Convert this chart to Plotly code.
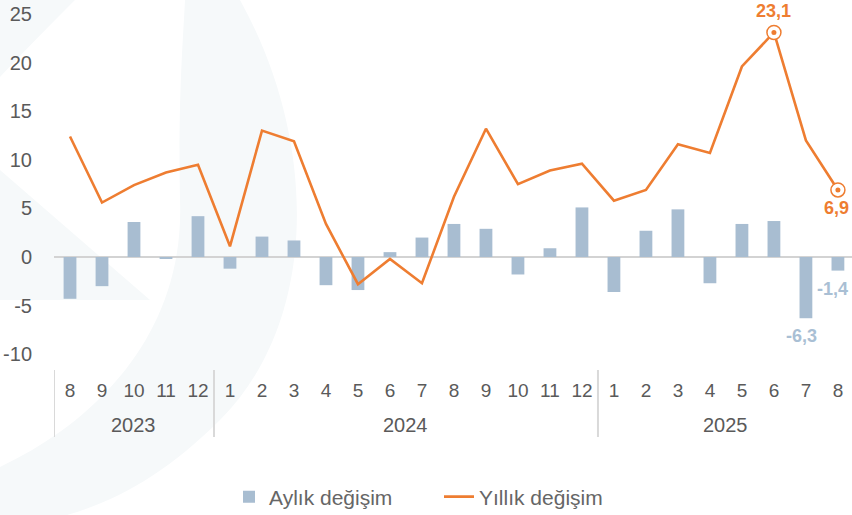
import plotly.graph_objects as go

years = ["2023"] * 5 + ["2024"] * 12 + ["2025"] * 8
months = ["8", "9", "10", "11", "12",
          "1", "2", "3", "4", "5", "6", "7", "8", "9", "10", "11", "12",
          "1", "2", "3", "4", "5", "6", "7", "8"]
monthly = [-4.3, -3.0, 3.6, -0.2, 4.2,
           -1.2, 2.1, 1.7, -2.9, -3.4, 0.5, 2.0, 3.4, 2.9, -1.8, 0.9, 5.1,
           -3.6, 2.7, 4.9, -2.7, 3.4, 3.7, -6.3, -1.4]
yearly = [12.4, 5.6, 7.4, 8.7, 9.5,
          1.1, 13.0, 11.9, 3.4, -2.8, -0.2, -2.7, 6.2, 13.2, 7.5, 8.9, 9.6,
          5.8, 6.9, 11.6, 10.7, 19.6, 23.1, 12.0, 6.9]
yticks = [-10, -5, 0, 5, 10, 15, 20, 25]

BAR = "#A8BDD1"
ORANGE = "#EE7D31"
TXT = "#5a5a5a"
FONT = "Liberation Sans"

periods = [f"{y}-{m}" for y, m in zip(years, months)]
peak = max(range(len(yearly)), key=lambda i: yearly[i])
last = len(yearly) - 1
hl = [peak, last]

fig = go.Figure()
fig.add_trace(go.Bar(x=periods, y=monthly, name="Aylık değişim", marker_color=BAR,
                     marker_line_width=0))
fig.add_trace(go.Scatter(x=periods, y=yearly, name="Yıllık değişim", mode="lines",
                         line=dict(color=ORANGE, width=2.6)))
fig.add_trace(go.Scatter(x=[periods[i] for i in hl], y=[yearly[i] for i in hl],
                         mode="markers", showlegend=False,
                         marker=dict(size=14, color="white",
                                     line=dict(color=ORANGE, width=1.5))))
fig.add_trace(go.Scatter(x=[periods[i] for i in hl], y=[yearly[i] for i in hl],
                         mode="markers", showlegend=False,
                         marker=dict(size=5, color=ORANGE, line_width=0)))


def fmt(v):
    return f"{v:.1f}".replace(".", ",")


ann_font = dict(family=FONT, size=18, color=ORANGE, weight="bold")
fig.add_annotation(x=periods[peak], y=yearly[peak], text=fmt(yearly[peak]),
                   showarrow=False, yshift=21, font=ann_font)
fig.add_annotation(x=periods[last], y=yearly[last], text=fmt(yearly[last]),
                   showarrow=False, yshift=-18, xshift=-1, font=ann_font)
bar_font = dict(family=FONT, size=18, color="#A9BFD4", weight="bold")
fig.add_annotation(x=periods[23], y=monthly[23], text=fmt(monthly[23]),
                   showarrow=False, yshift=-18, xshift=-4, font=bar_font)
fig.add_annotation(x=periods[24], y=monthly[24], text=fmt(monthly[24]),
                   showarrow=False, yshift=-18, xshift=-5, font=bar_font)

# year group labels and dividers
PB = 368.0  # plot bottom in px
def py2paper(py):
    return (PB - py) / PB

groups = []
for i, y in enumerate(years):
    if not groups or groups[-1][0] != y:
        groups.append([y, i, i])
    else:
        groups[-1][2] = i
for y, a, b in groups:
    fig.add_annotation(x=(a + b) / 2, y=py2paper(425), xref="x", yref="paper",
                       text=y, showarrow=False, yanchor="middle",
                       font=dict(family=FONT, size=20, color=TXT))
    fig.add_shape(type="line", xref="x", yref="paper", x0=a - 0.5, x1=a - 0.5,
                  y0=py2paper(370), y1=py2paper(437),
                  line=dict(color="#D9D9D9", width=2))

# faint background watermark (pixel path -> paper coords)
def path(pts):
    out = []
    for cmd, *xy in pts:
        coords = []
        for k in range(0, len(xy), 2):
            coords.append(f"{(xy[k]-54)/798:.4f},{(PB-xy[k+1])/PB:.4f}")
        out.append(cmd + " " + " ".join(coords))
    return " ".join(out) + " Z"

WM = "#F6F9FA"
wm_paths = [
    [("M", 0, 0), ("L", 75, 0), ("Q", 30, 45, 0, 77)],
    [("M", 185, 0), ("L", 240, 0), ("C", 318, 140, 320, 320, 220, 420),
     ("C", 170, 470, 120, 500, 67, 515), ("L", 0, 515), ("L", 0, 467),
     ("C", 100, 420, 185, 330, 180, 200), ("C", 178, 100, 183, 40, 185, 0)],
    [("M", 0, 170), ("L", 150, 300), ("L", 0, 300)],
]
for p in wm_paths:
    fig.add_shape(type="path", xref="paper", yref="paper", layer="below",
                  path=path(p), fillcolor=WM, line_width=0)

fig.update_layout(
    width=852, height=515,
    margin=dict(l=54, r=0, t=0, b=147, autoexpand=False),
    paper_bgcolor="white", plot_bgcolor="rgba(0,0,0,0)",
    font=dict(family=FONT, size=20, color=TXT),
    bargap=0.6,
    showlegend=True,
    legend=dict(orientation="h", x=(229 - 54) / 798, xanchor="left",
                y=py2paper(497), yanchor="middle", entrywidth=165,
                font=dict(family=FONT, size=21, color="#666666")),
    xaxis=dict(type="category", range=[-0.5, 24.44], showgrid=False,
               showline=False, ticks="", tickvals=periods, ticktext=months,
               ticklabelstandoff=9, automargin=False,
               tickfont=dict(family=FONT, size=19, color=TXT)),
    yaxis=dict(range=[-11.42, 26.44], tickvals=yticks,
               ticktext=[str(v) for v in yticks],
               showgrid=False, zeroline=True, zerolinecolor="#D3D3D3",
               zerolinewidth=2, ticks="outside", ticklen=17,
               tickcolor="rgba(0,0,0,0)", automargin=False,
               tickfont=dict(family=FONT, size=20, color=TXT)),
)

fig.write_html("out.html", config={"displayModeBar": False},
               post_script="document.body.style.margin='0';"
                           "document.body.style.overflow='hidden';")
